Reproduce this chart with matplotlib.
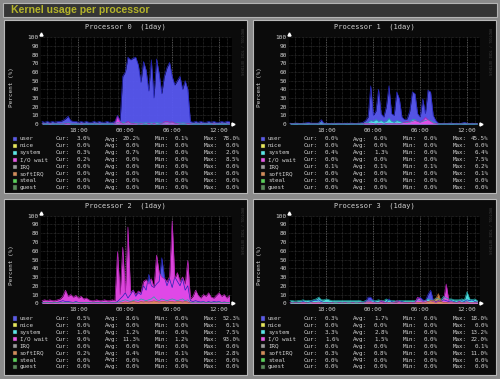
import numpy as np
import matplotlib
matplotlib.use("Agg")
import matplotlib.pyplot as plt
from matplotlib.patches import Rectangle

# ---------------- data ----------------
chart_title = "Kernel usage per processor"
panel_titles = ["Processor 0  (1day)", "Processor 1  (1day)",
                "Processor 2  (1day)", "Processor 3  (1day)"]
series_names = ["user", "nice", "system", "I/O wait", "IRQ", "softIRQ", "steal", "guest"]
series_colors = ["#5a5ae6", "#e6e65a", "#5ae6e6", "#e65ae6",
                 "#9a9a9a", "#d28c5a", "#5ad25a", "#5a8c5a"]
time_ticks = [18, 24, 30, 36]
time_labels = ["18:00", "00:00", "06:00", "12:00"]
y_ticks = [0, 10, 20, 30, 40, 50, 60, 70, 80, 90, 100]

# samples every 20 minutes starting 13:20
t_start = 13 + 1 / 3
t_step = 1 / 3

user0 = [3, 2, 3, 2, 3, 2, 3, 3, 4, 6,
         9, 4, 3, 3, 2, 3, 2, 3, 2, 2,
         3, 2, 3, 2, 2, 3, 2, 2, 3, 10,
         4, 55, 60, 77, 74, 76, 77, 68, 48, 72,
         62, 38, 74, 30, 75, 58, 35, 55, 65, 71,
         55, 45, 50, 55, 40, 50, 40, 3, 2, 3,
         2, 3, 2, 2, 3, 2, 3, 2, 2, 3,
         2, 3, 3]
system0 = [1, 0.5, 1, 0.6, 1, 0.5, 0.8, 0.5, 1, 1,
           1.5, 1, 0.5, 0.9, 0.5, 1, 0.6, 1, 0.5, 0.8,
           0.5, 1, 0.6, 1, 0.5, 0.9, 0.5, 1, 0.6, 1.5,
           1, 2, 1.5, 1, 1.4, 1, 1.6, 1, 1.3, 1,
           1.5, 0.9, 1.4, 1, 1.6, 1, 1.3, 1, 1.5, 1,
           1.4, 1, 1.5, 1, 1.3, 1, 1, 0.5, 1, 0.6,
           1, 0.5, 0.9, 0.5, 1, 0.6, 1, 0.5, 0.8, 0.5,
           1, 0.5, 0.5]
iowait0 = [0.2, 0, 0, 0.3, 0, 0, 0, 0.2, 0, 0.5,
           1, 0, 0, 0, 0, 0.3, 0, 0, 0, 0,
           0, 0, 0.2, 0, 0, 0, 0, 0, 0.5, 8.5,
           2, 0.5, 1, 3, 1, 0.5, 0.5, 0, 0.5, 0,
           0, 0.5, 0, 0.5, 0, 0, 0.5, 2.5, 3, 2,
           2.5, 1, 0.5, 0, 0, 0, 0.5, 0.2, 0, 0,
           0, 0.2, 0, 0, 0, 0, 0.3, 0, 0, 0,
           0, 0, 0.2]

user1 = [1, 0.5, 1, 1, 0.5, 1, 1, 2, 1, 1,
         1, 1, 5, 1, 1, 0.5, 1, 0.5, 1, 1,
         0.5, 1, 0.5, 1, 1, 0.5, 1, 1, 2, 4,
         8, 44, 10, 15, 40, 12, 8, 20, 44, 12,
         10, 37, 29, 8, 5, 6, 15, 37, 35, 12,
         8, 29, 12, 39, 37, 10, 4, 1, 0.5, 1,
         0.5, 1, 1, 0.5, 1, 0.5, 1, 2, 1, 0.5,
         1, 0.5, 0.5]
system1 = [0.5, 0.5, 1, 0.5, 0.5, 0.5, 1, 0.5, 0.5, 0.5,
           0.5, 1, 1.5, 0.5, 0.5, 0.5, 0.5, 1, 0.5, 0.5,
           0.5, 0.5, 1, 0.5, 0.5, 0.5, 0.5, 1, 0.5, 1.5,
           2, 4, 3, 5, 3, 4, 2, 3, 6.4, 3,
           2, 4, 3, 2, 2, 1.5, 3, 5, 5, 3,
           2, 3, 4, 5, 4, 2, 1, 0.5, 0.5, 0.5,
           0.5, 0.5, 1, 0.5, 0.5, 0.5, 0.5, 1, 0.5, 0.5,
           0.5, 0.5, 0.4]
iowait1 = [0, 0, 0, 0, 0, 0, 0, 0, 0, 0,
           0, 0, 0, 0, 0, 0, 0, 0, 0, 0,
           0, 0, 0, 0, 0, 0, 0, 0, 0, 1,
           0.5, 1, 0.5, 0, 1, 0.5, 0, 0.5, 1, 0.5,
           0.5, 1, 0.5, 1, 2, 3, 2, 3, 4, 3,
           2, 4, 7.5, 5, 3, 1, 0.5, 0, 0, 0,
           0, 0, 0, 0, 0, 0, 0, 0, 0, 0,
           0, 0, 0]

user2 = [1, 0.5, 1, 1, 0.5, 1, 1, 2, 3, 2,
         2, 1.5, 1, 2, 1, 1, 0.5, 1, 1, 0.5,
         0.5, 1, 0.5, 0.5, 1, 0.5, 0.5, 1, 0.5, 2,
         5, 8, 12, 6, 10, 15, 8, 12, 10, 20,
         15, 33, 20, 18, 22, 25, 52, 30, 20, 28,
         18, 30, 25, 20, 28, 15, 20, 3, 2, 3,
         2, 1.5, 2, 1, 2, 1, 2, 1.5, 2, 1,
         1.5, 1, 0.5]
system2 = [0.5, 0.5, 1, 0.5, 0.5, 1, 0.5, 0.5, 1, 1,
           1, 0.5, 0.5, 1, 0.5, 0.5, 0.5, 1, 0.5, 0.5,
           0.5, 0.5, 0.5, 1, 0.5, 0.5, 0.5, 0.5, 0.5, 1,
           2, 3, 4, 3, 2, 3, 4, 3, 5, 4,
           3, 4, 5, 7.5, 4, 3, 5, 4, 3, 4,
           5, 4, 3, 4, 5, 3, 4, 1, 1, 1.5,
           1, 1, 1.5, 1, 1, 1.5, 1, 1, 1.5, 1,
           1, 1, 1]
iowait2 = [3, 4, 3, 4, 3, 3, 4, 5, 8, 15,
           8, 10, 7, 9, 6, 8, 5, 6, 4, 3,
           3, 4, 3, 3, 4, 3, 3, 4, 3, 59,
           10, 64, 12, 87, 12, 15, 10, 14, 12, 25,
           27, 22, 28, 18, 55, 35, 30, 28, 25, 30,
           94, 28, 35, 25, 30, 22, 49, 5, 8, 15,
           9, 6, 10, 8, 12, 7, 6, 9, 12, 8,
           10, 6, 9]
softirq2 = [0.2, 0.2, 0.2, 0.2, 0.2, 0.2, 0.2, 0.2, 0.2, 0.2,
            0.2, 0.2, 0.2, 0.2, 0.2, 0.2, 0.2, 0.2, 0.2, 0.2,
            0.2, 0.2, 0.2, 0.2, 0.2, 0.2, 0.2, 0.2, 0.2, 0.3,
            0.5, 1, 1.5, 1, 1.5, 2, 1.5, 1, 2, 1.5,
            2, 1.5, 2, 2.8, 2, 1.5, 2, 2, 1.5, 2,
            2, 1.5, 2, 2, 1.5, 2, 1.5, 0.3, 0.2, 0.2,
            0.2, 0.2, 0.2, 0.2, 0.2, 0.2, 0.2, 0.2, 0.2, 0.2,
            0.2, 0.2, 0.2]

user3 = [1, 0.5, 1, 1, 1, 2, 1, 1, 2, 3,
         3, 4, 2, 1, 1, 0.5, 1, 0.5, 0.5, 1,
         0.5, 1, 0.5, 0.5, 1, 0.5, 0.5, 1, 1, 2,
         7, 7, 3, 1, 1, 2, 1, 1, 5, 2,
         1, 1, 3, 2, 1, 1, 1, 1, 1, 5,
         7, 4, 3, 10, 15, 4, 2, 3, 2, 4,
         3, 2, 3, 2, 1, 2, 3, 2, 4, 3,
         4, 2, 1]
system3 = [3, 3, 2.5, 3, 3, 4, 3, 3.5, 3, 4,
           5, 7, 4, 4, 5, 4, 3, 3, 3, 3,
           3, 3, 3, 3, 3, 3, 3, 3, 2, 3,
           2.5, 3, 3, 3, 4, 3, 3, 5, 3, 3,
           3, 2.5, 3, 3, 3, 3, 3, 3, 3, 4,
           3, 2.5, 3, 5, 4, 3, 6, 5, 4, 8,
           6, 5, 5, 4, 4, 4, 5, 4, 13.2, 5,
           4, 5, 3]
iowait3 = [0.5, 0, 0.5, 0, 0.5, 1, 0.5, 0, 0.5, 1,
           1, 1.5, 0.5, 0, 0.5, 0, 0.5, 0, 0, 0.5,
           0, 0.5, 0, 0, 0.5, 0, 0, 0.5, 0, 1,
           3, 2, 1, 0.5, 0.5, 3, 2, 0.5, 1, 0.5,
           1, 3, 2, 0.5, 1, 0.5, 1, 0.5, 1, 7,
           5, 2, 3, 2, 3, 2, 1, 2, 3, 4,
           22, 3, 2, 1, 1, 2, 1, 1, 2, 1,
           1, 1, 1.6]
softirq3 = [0.3, 0.3, 0.3, 0.3, 0.3, 0.3, 0.3, 0.3, 0.3, 0.3,
            0.3, 0.3, 0.3, 0.3, 0.3, 0.3, 0.3, 0.3, 0.3, 0.3,
            0.3, 0.3, 0.3, 0.3, 0.3, 0.3, 0.3, 0.3, 0.3, 0.3,
            0.5, 0.5, 0.3, 0.3, 0.3, 0.5, 0.3, 0.3, 0.5, 0.3,
            0.3, 0.5, 0.3, 0.3, 0.3, 0.3, 0.5, 0.3, 0.3, 1,
            1, 0.5, 1, 2, 3, 3, 5, 11, 2, 1,
            1, 0.5, 0.5, 0.5, 0.3, 0.5, 0.5, 0.3, 0.5, 0.3,
            0.3, 0.3, 0.3]

# legend statistics: order = series_names
cur0 = [3.0, 0.0, 0.3, 0.2, 0.0, 0.0, 0.0, 0.0]
avg0 = [20.2, 0.0, 0.7, 0.0, 0.0, 0.0, 0.0, 0.0]
min0 = [0.1, 0.0, 0.0, 0.0, 0.0, 0.0, 0.0, 0.0]
max0 = [78.0, 0.0, 2.0, 8.5, 0.0, 0.0, 0.0, 0.0]
cur1 = [0.0, 0.0, 0.4, 0.0, 0.1, 0.0, 0.0, 0.0]
avg1 = [6.0, 0.0, 1.3, 0.0, 0.1, 0.0, 0.0, 0.0]
min1 = [0.0, 0.0, 0.0, 0.0, 0.1, 0.0, 0.0, 0.0]
max1 = [45.5, 0.0, 6.4, 7.5, 0.2, 0.1, 0.0, 0.0]
cur2 = [0.5, 0.0, 1.0, 9.0, 0.0, 0.2, 0.0, 0.0]
avg2 = [8.6, 0.0, 1.2, 11.3, 0.0, 0.4, 0.0, 0.0]
min2 = [0.0, 0.0, 0.0, 1.2, 0.0, 0.1, 0.0, 0.0]
max2 = [52.3, 0.1, 7.5, 93.0, 0.0, 2.8, 0.0, 0.0]
cur3 = [0.3, 0.0, 3.3, 1.6, 0.0, 0.3, 0.0, 0.0]
avg3 = [1.7, 0.0, 2.8, 1.5, 0.0, 0.8, 0.0, 0.0]
min3 = [0.0, 0.0, 0.0, 0.0, 0.0, 0.0, 0.0, 0.0]
max3 = [18.0, 0.0, 13.2, 22.0, 0.1, 11.0, 0.0, 0.0]

panel_series = [
    {"user": user0, "system": system0, "I/O wait": iowait0},
    {"user": user1, "system": system1, "I/O wait": iowait1},
    {"user": user2, "system": system2, "I/O wait": iowait2, "softIRQ": softirq2},
    {"user": user3, "system": system3, "I/O wait": iowait3, "softIRQ": softirq3},
]
panel_stats = [(cur0, avg0, min0, max0), (cur1, avg1, min1, max1),
               (cur2, avg2, min2, max2), (cur3, avg3, min3, max3)]

edge_colors = {"user": "#2424b8", "system": "#20a8a8", "I/O wait": "#b020b0",
               "softIRQ": "#a86030"}
fill_colors = {"user": "#5858f2", "system": "#50e8e8", "I/O wait": "#e848e8",
               "softIRQ": "#d8904c"}

# ---------------- layout ----------------
W, H = 500, 379
fig = plt.figure(figsize=(5, 3.79), dpi=100)
fig.patch.set_facecolor("#8a8a8a")

bg = fig.add_axes([0, 0, 1, 1], zorder=0)
bg.set_xlim(0, W)
bg.set_ylim(H, 0)
bg.axis("off")

MONO = "DejaVu Sans Mono"
TXT = "#d2d2d2"

# title bar
bg.add_patch(Rectangle((3, 3), 494, 14, fc="#353535", ec="#b4b4b4", lw=0.8))
bg.text(11, 10.3, chart_title, color="#b4b42a", fontsize=7.6,
        fontweight="bold", family="Liberation Sans", va="center", ha="left")

panels = [  # x0, y0, w, h, plot_left, plot_top, plot_bottom
    (4, 19.5, 243, 173, 41, 37.3, 124.0),
    (252.5, 19.5, 243.5, 173, 289, 37.3, 124.0),
    (4, 198.5, 243, 176, 41, 215.7, 303.3),
    (252.5, 198.5, 243.5, 176, 289, 215.7, 303.3),
]
plot_w = 190.5

for k, (x0, y0, pw, ph, pl, pt, pb) in enumerate(panels):
    bg.add_patch(Rectangle((x0, y0), pw, ph, fc="#0b0b0b", ec="#b8b8b8", lw=0.8))
    bg.text(x0 + pw / 2, y0 + 7.6, panel_titles[k], color=TXT, fontsize=5.0,
            family=MONO, ha="center", va="center")
    bg.text(x0 + 7.5, (pt + pb) / 2 + 6, "Percent (%)", color=TXT, fontsize=4.3,
            family=MONO, rotation=90, ha="center", va="center")
    bg.text(x0 + 236.5, y0 + 32, "RRDTOOL / TOBI OETIKER", color="#3c3c3c",
            fontsize=2.6, family=MONO, rotation=270, ha="center", va="center")

    # legend
    ly0 = pb + 15.0
    cur, avg, mn, mx = panel_stats[k]
    for r, name in enumerate(series_names):
        yy = ly0 + r * 6.95
        bg.add_patch(Rectangle((x0 + 8.5, yy - 2.2), 4.4, 4.4,
                               fc=series_colors[r], ec="#222222", lw=0.3))
        bg.text(x0 + 15.5, yy, name, color=TXT, fontsize=4.2, family=MONO,
                ha="left", va="center")
        for lab, vals, lx, rx in (("Cur:", cur, 51.2, 86.5), ("Avg:", avg, 100.6, 135.6),
                                  ("Min:", mn, 150.6, 184.8), ("Max:", mx, 200.0, 235.8)):
            bg.text(x0 + lx, yy, lab, color=TXT, fontsize=4.2, family=MONO,
                    ha="left", va="center")
            bg.text(x0 + rx, yy, f"{vals[r]:.1f}%", color=TXT, fontsize=4.2,
                    family=MONO, ha="right", va="center")

    # plot axes
    ax = fig.add_axes([pl / W, 1 - pb / H, plot_w / W, (pb - pt) / H], zorder=1)
    ax.set_facecolor("#000000")
    for s in ax.spines.values():
        s.set_visible(False)
    ax.set_xlim(13.2, 37.6)
    ax.set_ylim(0, 100)
    ax.set_xticks(time_ticks)
    ax.set_xticklabels(time_labels)
    ax.set_xticks(np.arange(14, 38), minor=True)
    ax.set_yticks(y_ticks)
    ax.set_yticklabels([str(v) for v in y_ticks])
    ax.tick_params(which="both", length=0, colors=TXT, labelsize=4.4, pad=1.6)
    ax.tick_params(axis="x", pad=2.6)
    for lbl in ax.get_xticklabels() + ax.get_yticklabels():
        lbl.set_family(MONO)
    ax.grid(which="minor", axis="x", color="#3a3a3a", lw=0.5, ls=(0, (1, 1)))
    ax.grid(which="major", axis="x", color="#6e6e6e", lw=0.6, ls=(0, (1, 1)))
    ax.grid(which="major", axis="y", color="#3a3a3a", lw=0.5, ls=(0, (1, 1)))
    ax.set_axisbelow(True)

    data = panel_series[k]
    n = len(data["user"])
    t = t_start + t_step * np.arange(n)
    for name in ["user", "system", "I/O wait", "softIRQ"]:
        if name not in data:
            continue
        v = np.array(data[name], dtype=float)
        ax.fill_between(t, 0, v, color=fill_colors[name], lw=0, alpha=0.95, zorder=2)
        ax.plot(t, v, color=edge_colors[name], lw=0.5, zorder=3)

    # rrdtool arrows
    ax.plot([13.25], [103.5], marker="^", ms=2.2, color="white", clip_on=False, zorder=5)
    ax.plot([37.75], [0], marker=">", ms=2.2, color="white", clip_on=False, zorder=5)

fig.savefig("out.png", dpi=100, facecolor=fig.get_facecolor())
